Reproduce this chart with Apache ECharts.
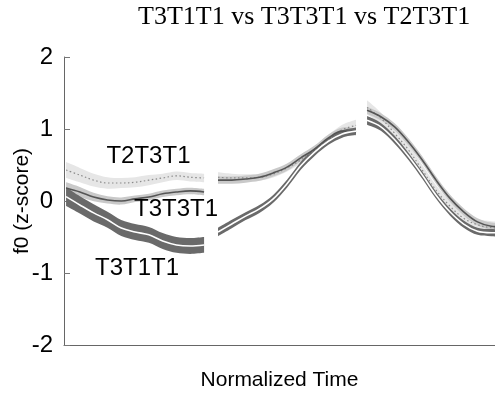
<!DOCTYPE html>
<html>
<head>
<meta charset="utf-8">
<script src="https://cdn.jsdelivr.net/npm/echarts@6/dist/echarts.min.js"></script>
<style>
  html, body { margin: 0; padding: 0; background: #fff; }
  #chart { width: 495px; height: 395px; }
</style>
</head>
<body>
<div id="chart"></div>
<script>
// Normalized sample times within each syllable, and where each syllable starts on the time axis
const sampleTimes = [0, 0.1, 0.2, 0.3, 0.4, 0.5, 0.6, 0.7, 0.8, 0.9, 1.0];
const syllableStart = [0.015, 1.116, 2.196];
const timeAxisMax = 3.123;

// Mean f0 (z-score) per syllable for each tone sequence
const t3t1t1Mean = [
  [0.06, -0.055, -0.165, -0.26, -0.375, -0.43, -0.47, -0.555, -0.61, -0.625, -0.61],
  [-0.43, -0.32, -0.21, -0.11, 0.03, 0.24, 0.49, 0.68, 0.83, 0.93, 0.97],
  [1.12, 1.03, 0.85, 0.62, 0.36, 0.08, -0.15, -0.32, -0.42, -0.44, -0.44]
];
const t3t3t1Mean = [
  [0.18, 0.125, 0.055, 0.015, 0.0, 0.03, 0.055, 0.10, 0.125, 0.14, 0.125],
  [0.29, 0.29, 0.305, 0.33, 0.39, 0.47, 0.60, 0.72, 0.875, 0.97, 0.96],
  [1.26, 1.17, 1.03, 0.82, 0.57, 0.29, 0.04, -0.15, -0.29, -0.35, -0.36]
];
const t2t3t1Mean = [
  [0.43, 0.36, 0.29, 0.25, 0.25, 0.26, 0.29, 0.32, 0.35, 0.33, 0.32],
  [0.33, 0.32, 0.32, 0.33, 0.375, 0.46, 0.57, 0.71, 0.86, 0.99, 1.05],
  [1.30, 1.15, 0.94, 0.71, 0.43, 0.15, -0.07, -0.24, -0.33, -0.37, -0.39]
];

// Half-width of the error band around each mean
const t3t1t1Band = [
  [0.13, 0.12, 0.12, 0.11, 0.11, 0.11, 0.11, 0.11, 0.11, 0.11, 0.11],
  [0.06, 0.06, 0.055, 0.055, 0.055, 0.055, 0.055, 0.055, 0.05, 0.05, 0.05],
  [0.06, 0.055, 0.055, 0.05, 0.05, 0.05, 0.05, 0.05, 0.05, 0.05, 0.05]
];
const t3t3t1Band = [
  [0.08, 0.07, 0.06, 0.05, 0.05, 0.045, 0.045, 0.045, 0.045, 0.045, 0.045],
  [0.05, 0.05, 0.05, 0.05, 0.05, 0.05, 0.05, 0.05, 0.05, 0.05, 0.05],
  [0.05, 0.05, 0.05, 0.05, 0.05, 0.05, 0.05, 0.05, 0.05, 0.05, 0.05]
];
const t2t3t1Band = [
  [0.11, 0.10, 0.09, 0.08, 0.07, 0.07, 0.07, 0.06, 0.06, 0.06, 0.06],
  [0.07, 0.06, 0.05, 0.05, 0.05, 0.05, 0.05, 0.05, 0.06, 0.07, 0.08],
  [0.10, 0.08, 0.07, 0.07, 0.07, 0.07, 0.07, 0.07, 0.08, 0.09, 0.10]
];

const yTicks = [-2, -1, 0, 1, 2];

// Label text placed next to each curve, anchored in data coordinates
const curveLabels = [
  { text: 'T2T3T1', at: [0.612, 0.625] },
  { text: 'T3T3T1', at: [0.812, -0.11] },
  { text: 'T3T1T1', at: [0.529, -0.93] }
];

const groups = [
  { name: 'T2T3T1', mean: t2t3t1Mean, band: t2t3t1Band, fill: '#e6e6e6',
    line: { color: '#8a8a8a', width: 1.2, type: [1.5, 2.5] } },
  { name: 'T3T3T1', mean: t3t3t1Mean, band: t3t3t1Band, fill: '#c9c9c9',
    line: { color: '#555555', width: 1.6, type: 'solid' } },
  { name: 'T3T1T1', mean: t3t1t1Mean, band: t3t1t1Band, fill: '#6a6a6a',
    line: { color: '#ffffff', width: 1.6, type: 'solid' } }
];

// Smooth cubic path through already-projected pixel points (Catmull-Rom style)
function smoothSegment(pts, k) {
  let d = '';
  for (let i = 0; i < pts.length - 1; i++) {
    const p0 = pts[Math.max(i - 1, 0)], p1 = pts[i], p2 = pts[i + 1];
    const p3 = pts[Math.min(i + 2, pts.length - 1)];
    const c1 = [p1[0] + (p2[0] - p0[0]) * k / 2, p1[1] + (p2[1] - p0[1]) * k / 2];
    const c2 = [p2[0] - (p3[0] - p1[0]) * k / 2, p2[1] - (p3[1] - p1[1]) * k / 2];
    d += ' C' + c1[0] + ',' + c1[1] + ' ' + c2[0] + ',' + c2[1] + ' ' + p2[0] + ',' + p2[1];
  }
  return d;
}

const series = [];
// Error bands: one filled outline per syllable, projected through the axis scales
groups.forEach((g, gi) => {
  syllableStart.forEach((s0, si) => {
    const upper = sampleTimes.map((t, i) => [s0 + t, g.mean[si][i] + g.band[si][i]]);
    const lower = sampleTimes.map((t, i) => [s0 + t, g.mean[si][i] - g.band[si][i]]);
    series.push({
      type: 'custom', silent: true, z: 1 + gi,
      data: [0],
      renderItem: function (params, api) {
        const up = upper.map(p => api.coord(p));
        const lo = lower.slice().reverse().map(p => api.coord(p));
        const d = 'M' + up[0][0] + ',' + up[0][1] + smoothSegment(up, 0.33) +
          ' L' + lo[0][0] + ',' + lo[0][1] + smoothSegment(lo, 0.33) + ' Z';
        const cs = params.coordSys;
        return {
          type: 'group',
          clipPath: { type: 'rect', shape: { x: cs.x, y: cs.y, width: cs.width, height: cs.height } },
          children: [{
            type: 'path',
            shape: { pathData: d },
            style: { fill: g.fill, stroke: null }
          }]
        };
      }
    });
  });
});
// Mean lines on top
groups.forEach((g, gi) => {
  syllableStart.forEach((s0, si) => {
    series.push({
      type: 'line', name: g.name,
      data: sampleTimes.map((t, i) => [s0 + t, g.mean[si][i]]),
      smooth: 0.35, symbol: 'none', silent: true,
      lineStyle: g.line, z: 10 + gi
    });
  });
});

const chart = echarts.init(document.getElementById('chart'), null, { renderer: 'canvas' });
chart.setOption({
  animation: false,
  backgroundColor: '#ffffff',
  title: {
    text: 'T3T1T1 vs T3T3T1 vs T2T3T1',
    left: 133, top: -1,
    textStyle: { fontFamily: 'Liberation Serif', fontSize: 26, fontWeight: 'normal', color: '#000' }
  },
  grid: { left: 64, right: 0, top: 57, bottom: 50, outerBoundsMode: 'none', containLabel: false },
  xAxis: {
    type: 'value', min: 0, max: timeAxisMax,
    name: 'Normalized Time', nameLocation: 'middle', nameGap: 25, nameMoveOverlap: false,
    nameTextStyle: { fontFamily: 'Liberation Sans', fontSize: 21, color: '#000' },
    axisLine: { show: true, onZero: false, lineStyle: { color: '#666', width: 1 } },
    axisTick: { show: false }, axisLabel: { show: false }, splitLine: { show: false }
  },
  yAxis: {
    type: 'value', min: yTicks[0], max: yTicks[yTicks.length - 1], interval: 1,
    name: 'f0 (z-score)', nameLocation: 'middle', nameGap: 31, nameMoveOverlap: false,
    nameTextStyle: { fontFamily: 'Liberation Sans', fontSize: 21, color: '#000' },
    axisLine: { show: true, onZero: false, lineStyle: { color: '#666', width: 1 } },
    axisTick: { show: true, inside: true, length: 6, lineStyle: { color: '#777' } },
    axisLabel: { fontFamily: 'Liberation Sans', fontSize: 24, color: '#000', margin: 11 },
    splitLine: { show: false }
  },
  series: series
});

// Curve name labels, positioned from data coordinates
chart.setOption({
  graphic: curveLabels.map(l => {
    const p = chart.convertToPixel({ gridIndex: 0 }, l.at);
    return {
      type: 'text', x: p[0], y: p[1], z: 100,
      style: {
        text: l.text, fill: '#000', font: '24px "Liberation Sans"',
        align: 'center', verticalAlign: 'middle'
      }
    };
  })
});
</script>
</body>
</html>
